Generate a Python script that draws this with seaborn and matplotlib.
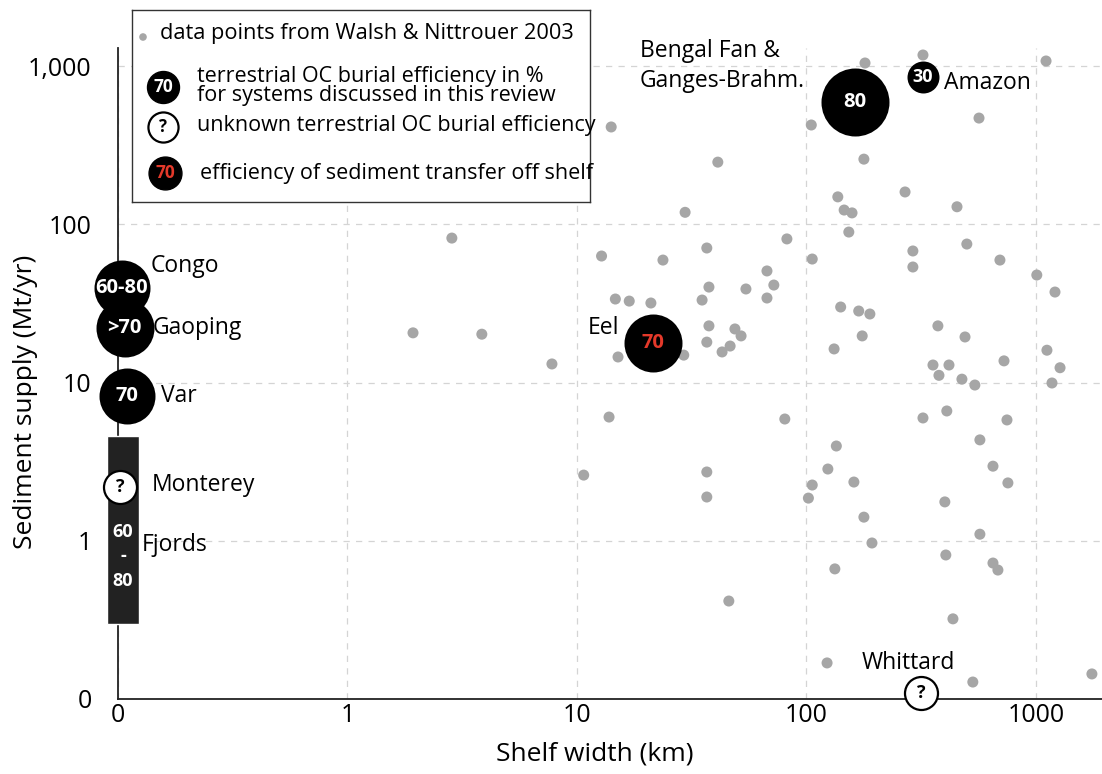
import matplotlib
matplotlib.use("Agg")
import matplotlib.pyplot as plt
import seaborn as sns
import pandas as pd

# shelf data from Walsh & Nittrouer 2003 (shelf width in km, sediment supply in Mt/yr)
shelf_width = [14.1, 41.1, 29.6, 2.85, 12.8, 23.7, 36.8, 37.6, 54.5, 35.1,
               14.7, 16.9, 21.0, 1.93, 3.85, 37.6, 48.8, 51.9, 36.8, 46.5,
               42.9, 29.2, 15.1, 7.78, 13.8, 322, 180, 1107, 105, 565,
               178, 137, 269, 453, 146, 158, 153, 82.2, 106, 500,
               291, 291, 697, 67.3, 72.1, 67.3, 1009, 1211, 141, 169,
               189, 374, 491, 175, 132, 1117, 356, 418, 726, 1274,
               378, 476, 542, 1175, 80.5, 322, 409, 748, 570, 135,
               124, 650, 755, 161, 106, 102, 401, 178, 570, 193,
               405, 133, 650, 683, 435, 123, 531, 1754, 10.7, 36.8,
               36.8, 45.9]
sediment_supply = [412, 247, 119, 81.8, 63, 59.4, 70.8, 40.1, 39.0, 33.2,
                   33.7, 32.7, 31.8, 20.6, 20.2, 22.8, 21.8, 19.7, 18.0, 17.0,
                   15.6, 14.9, 14.5, 13.1, 6.05, 1174, 1045, 1076, 424, 469,
                   258, 149, 160, 129, 123, 118, 89.3, 80.8, 60.3, 75.0,
                   67.8, 53.7, 59.4, 50.7, 41.3, 34.2, 47.8, 37.3, 30.0, 28.3,
                   27.1, 22.8, 19.4, 19.7, 16.3, 16.0, 12.9, 12.9, 13.7, 12.4,
                   11.1, 10.5, 9.64, 9.93, 5.88, 5.97, 6.61, 5.80, 4.34, 3.97,
                   2.84, 2.96, 2.32, 2.35, 2.25, 1.86, 1.76, 1.41, 1.10, 0.968,
                   0.813, 0.664, 0.723, 0.653, 0.321, 0.169, 0.128, 0.144, 2.60, 2.72,
                   1.89, 0.416]

# systems discussed in the review
sys_names = ["Congo", "Gaoping", "Var", "Monterey",
             "Bengal Fan &\nGanges-Brahm.", "Amazon", "Eel", "Whittard"]
sys_width = [0.104, 0.107, 0.109, 0.102, 163, 322, 21.4, 316]
sys_supply = [39.5, 22.1, 8.22, 2.19, 593, 852, 17.8, 0.109]
sys_efficiency = ["60-80", ">70", "70", "?", "80", "30", "70", "?"]

# fjords shown as a range bar
fjords_name = "Fjords"
fjords_width = [0.0896, 0.1236]
fjords_supply = [0.298, 4.59]
fjords_efficiency = "60\n-\n80"

x_ticks = [0.1, 1, 10, 100, 1000]
x_ticklabels = ["0", "1", "10", "100", "1000"]
y_ticks = [0.1, 1, 10, 100, 1000]
y_ticklabels = ["0", "1", "10", "100", "1,000"]

# ---- style ----
sns.set_style("white")
plt.rcParams["font.family"] = ["Open Sans", "DejaVu Sans"]
plt.rcParams["text.color"] = "black"
plt.rcParams["axes.labelcolor"] = "black"
plt.rcParams["xtick.color"] = "black"
plt.rcParams["ytick.color"] = "black"

GREY = "#a6a6a6"
RED = "#e4392a"
W, H = 1102, 774

# per system: marker size, face, text colour, label offset (pt), ha
sys_style = {
    "Congo": dict(s=1625, face="black", tc="white", off=(21, 16), ha="left"),
    "Gaoping": dict(s=1743, face="black", tc="white", off=(20, 0), ha="left"),
    "Var": dict(s=1625, face="black", tc="white", off=(25, 0), ha="left"),
    "Monterey": dict(s=565, face="white", tc="black", off=(23, 1.5), ha="left"),
    "Bengal Fan &\nGanges-Brahm.": dict(s=2397, face="black", tc="white", off=(-36, 26), ha="right"),
    "Amazon": dict(s=530, face="black", tc="white", off=(15, -4), ha="left"),
    "Eel": dict(s=1743, face="black", tc=RED, off=(-24, 11), ha="right"),
    "Whittard": dict(s=565, face="white", tc="black", off=(-9, 21.5), ha="center"),
}

fig = plt.figure(figsize=(W / 100, H / 100), dpi=100)
ax = fig.add_axes([118 / W, 1 - 699 / H, (W - 118) / W, (699 - 48) / H])

ax.set_xscale("log")
ax.set_yscale("log")
ax.set_xlim(0.1, 1941)
ax.set_ylim(0.1, 1300)

df = pd.DataFrame({"width": shelf_width, "supply": sediment_supply})
sns.scatterplot(data=df, x="width", y="supply", color=GREY, s=63,
                edgecolor="none", ax=ax, zorder=3)

# fjords bar
ax.bar(fjords_width[0], fjords_supply[1] - fjords_supply[0], bottom=fjords_supply[0],
       width=fjords_width[1] - fjords_width[0], align="edge", color="#222222",
       zorder=4, clip_on=False)
fj_mid = (fjords_supply[0] * fjords_supply[1]) ** 0.5
fj_x = (fjords_width[0] * fjords_width[1]) ** 0.5
ax.annotate(fjords_efficiency, (fj_x, fj_mid), xytext=(0, -19), textcoords="offset points",
            ha="center", va="center", color="white", fontsize=13, fontweight="bold",
            linespacing=1.45, zorder=7, annotation_clip=False)
ax.annotate(fjords_name, (fjords_width[1], fj_mid), xytext=(2, -11), textcoords="offset points",
            ha="left", va="center", fontsize=16.5, zorder=7, annotation_clip=False)

for name, x, y, eff in zip(sys_names, sys_width, sys_supply, sys_efficiency):
    st = sys_style[name]
    ax.scatter([x], [y], s=st["s"], facecolor=st["face"], edgecolor="black",
               linewidth=1.6 if st["face"] == "white" else 0, zorder=5, clip_on=False)
for name, x, y, eff in zip(sys_names, sys_width, sys_supply, sys_efficiency):
    st = sys_style[name]
    fs = 13 if eff == "?" else 14.5
    if name == "Amazon":
        fs = 13
    ax.text(x, y, eff, ha="center", va="center", color=st["tc"], fontsize=fs,
            fontweight="bold", zorder=6, clip_on=False)
    ax.annotate(name, (x, y), xytext=st["off"], textcoords="offset points",
                ha=st["ha"], va="center", multialignment="left", fontsize=16.5,
                linespacing=1.3, zorder=6, annotation_clip=False)

# axes cosmetics
ax.xaxis.set_major_locator(plt.FixedLocator(x_ticks))
ax.xaxis.set_major_formatter(plt.FixedFormatter(x_ticklabels))
ax.yaxis.set_major_locator(plt.FixedLocator(y_ticks))
ax.yaxis.set_major_formatter(plt.FixedFormatter(y_ticklabels))
ax.minorticks_off()
ax.tick_params(axis="both", length=0, labelsize=18)
ax.tick_params(axis="x", pad=3)
ax.tick_params(axis="y", pad=19)
ax.grid(True, color="#d4d4d4", linestyle=(0, (5, 5)), linewidth=0.9)
for side in ["top", "right"]:
    ax.spines[side].set_visible(False)
for side in ["left", "bottom"]:
    ax.spines[side].set_color("#222222")
    ax.spines[side].set_linewidth(1.3)

ax.set_xlabel("Shelf width (km)", fontsize=19)
ax.set_ylabel("Sediment supply (Mt/yr)", fontsize=19)
ax.xaxis.set_label_coords(0.485, -0.066)
ax.yaxis.set_label_coords(-0.081, 0.456)

# hand-made legend box
lg = fig.add_axes([132 / W, 1 - 202 / H, 458 / W, 192 / H], zorder=10)
lg.set_xlim(0, 458)
lg.set_ylim(192, 0)
lg.set_xticks([])
lg.set_yticks([])
for sp in lg.spines.values():
    sp.set_color("#333333")
    sp.set_linewidth(1.0)
lg.scatter([11], [27], s=30, color=GREY, edgecolor="none")
lg.text(28, 24, "data points from Walsh & Nittrouer 2003", va="center", fontsize=15.7)
lg.scatter([31], [77], s=530, color="black")
lg.text(31, 77, "70", ha="center", va="center", color="white", fontsize=12.5, fontweight="bold")
lg.text(65, 76, "terrestrial OC burial efficiency in %\nfor systems discussed in this review",
        va="center", fontsize=15.5, linespacing=0.85)
lg.scatter([31], [117], s=470, facecolor="white", edgecolor="black", linewidth=1.6)
lg.text(31, 117, "?", ha="center", va="center", fontsize=12, fontweight="bold")
lg.text(65, 115, "unknown terrestrial OC burial efficiency", va="center", fontsize=15.5)
lg.scatter([33], [163], s=560, color="black")
lg.text(33, 163, "70", ha="center", va="center", color=RED, fontsize=12.5, fontweight="bold")
lg.text(68, 163, "efficiency of sediment transfer off shelf", va="center", fontsize=15.5)

fig.savefig("out.png", dpi=100, facecolor="white")
